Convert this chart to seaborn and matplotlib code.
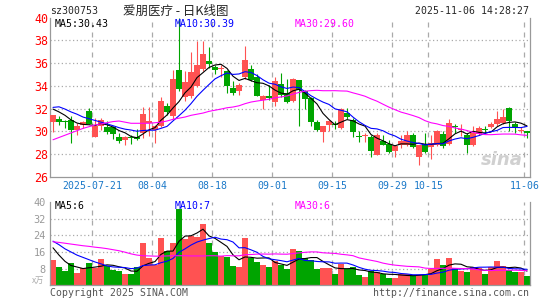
import numpy as np
import pandas as pd
import seaborn as sns
import matplotlib.pyplot as plt

# trading days on the chart (Oct 1-8 holiday skipped)
days = [d for d in pd.bdate_range('2025-07-10', '2025-11-06')
        if not (pd.Timestamp('2025-10-01') <= d <= pd.Timestamp('2025-10-08'))]

opens = [30.82, 31.1, 30.85, 31.03, 30.15, 30.53, 31.76, 29.5, 30.45, 30.4,
         30.4, 29.5, 29.2, 29.5, 29.45, 29.85, 30.75, 30.1, 30.45, 32.2,
         31.3, 35.4, 33.0, 33.1, 34.0, 35.5, 36.2, 35.65, 35.45, 35.3,
         33.8, 33.55, 34.8, 35.5, 34.8, 32.75, 33.1, 32.55, 34.15, 33.35,
         32.7, 34.5, 33.5, 32.9, 30.8, 29.95, 30.55, 30.6, 30.3, 31.6,
         31.0, 29.55, 29.55, 29.5, 27.95, 29.1, 28.9, 28.25, 28.75, 28.75,
         29.65, 27.7, 28.9, 28.6, 28.8, 29.75, 28.9, 30.4, 30.1, 29.7,
         28.75, 29.75, 30.15, 30.4, 30.6, 30.75, 32.05, 30.65, 30.0, 30.0]
highs = [31.4, 31.38, 31.0, 31.3, 30.74, 30.9, 32.05, 31.2, 31.2, 30.9,
         30.5, 29.85, 29.6, 29.7, 30.2, 32.1, 32.1, 30.55, 33.0, 32.45,
         35.4, 39.95, 35.3, 37.0, 37.9, 37.95, 37.4, 35.8, 35.8, 35.4,
         34.4, 34.25, 37.5, 35.85, 35.0, 33.2, 34.1, 34.8, 35.1, 34.6,
         34.65, 34.55, 33.65, 33.05, 30.95, 30.45, 30.95, 30.9, 32.05, 32.05,
         31.2, 30.0, 29.85, 29.7, 29.85, 29.65, 29.2, 28.75, 29.65, 30.0,
         29.85, 28.8, 29.85, 29.65, 30.1, 30.0, 31.05, 30.6, 30.65, 29.85,
         30.45, 30.45, 30.45, 30.8, 31.75, 32.0, 32.15, 30.8, 30.35, 30.0]
lows = [29.9, 30.55, 30.3, 29.0, 29.7, 30.3, 30.6, 29.45, 30.15, 29.8,
        29.3, 29.0, 28.8, 28.9, 29.25, 29.4, 29.6, 29.0, 30.35, 31.4,
        31.1, 33.5, 32.7, 32.9, 33.9, 35.3, 35.6, 35.0, 34.8, 33.35,
        33.2, 33.2, 34.6, 34.45, 33.1, 32.0, 32.75, 32.25, 33.0, 32.5,
        32.6, 30.5, 32.0, 30.5, 30.05, 29.05, 30.05, 30.2, 30.2, 31.1,
        29.5, 29.05, 29.05, 27.7, 27.9, 28.75, 28.1, 27.7, 28.5, 28.7,
        28.5, 27.0, 28.1, 27.6, 28.7, 28.5, 28.8, 29.85, 29.55, 28.1,
        28.7, 29.65, 29.75, 30.25, 30.45, 30.65, 30.05, 29.85, 29.85, 29.4]
closes = [31.4, 30.82, 30.8, 30.15, 30.44, 30.82, 30.65, 30.45, 31.0, 29.95,
          29.8, 29.1, 29.47, 29.4, 29.35, 31.5, 30.9, 30.45, 32.65, 31.65,
          34.6, 33.7, 34.3, 35.2, 35.8, 36.8, 35.95, 35.4, 35.5, 34.0,
          33.35, 34.1, 36.3, 34.5, 33.1, 33.1, 32.95, 34.45, 33.2, 32.6,
          34.6, 33.6, 32.8, 30.85, 30.15, 30.45, 30.9, 30.55, 31.95, 31.25,
          29.95, 29.5, 29.6, 28.25, 29.65, 28.8, 28.2, 28.7, 29.1, 29.65,
          28.6, 28.75, 28.2, 29.0, 30.05, 28.7, 30.75, 30.35, 30.2, 28.8,
          29.85, 30.3, 30.1, 30.6, 31.05, 31.25, 30.9, 30.3, 30.05, 29.85]
volumes = [12.1, 8.6, 6.8, 10.5, 5.9, 8.4, 10.5, 8.4, 12.6, 9.2,
           7.3, 7.0, 5.4, 5.4, 8.6, 20.4, 12.9, 9.6, 22.8, 16.4,
           20.4, 36.5, 22.0, 23.6, 23.1, 29.5, 20.4, 16.1, 14.0, 13.4,
           9.2, 8.6, 22.8, 13.2, 11.3, 9.7, 8.8, 11.8, 9.7, 7.8,
           17.4, 16.4, 12.9, 12.1, 7.8, 8.1, 8.4, 5.4, 10.4, 7.6,
           8.6, 4.9, 4.0, 6.8, 6.5, 5.4, 3.7, 3.7, 5.4, 5.4,
           4.8, 4.8, 5.1, 7.8, 12.6, 9.7, 13.2, 8.1, 7.0, 6.4,
           8.6, 8.3, 5.4, 8.6, 11.8, 9.4, 7.2, 6.5, 6.5, 4.5]

# moving averages at the left edge (history before the window)
ma5_head = [31.95, 31.7, 31.4, 31.0]
ma10_head = [32.1, 32.15, 31.95, 31.7, 31.5, 31.25, 31.1, 30.95, 30.8]
ma30_head = [29.25, 29.45, 29.65, 29.85, 30.05, 30.25, 30.4, 30.55, 30.65, 30.75,
             30.85, 30.9, 30.8, 30.7, 30.7, 30.7, 30.7, 30.75, 30.8, 30.9,
             31.05, 31.15, 31.25, 31.4, 31.5, 31.6, 31.75, 31.85, 31.95]
vma5_head = [18.0, 14.5, 11.5, 9.5]
vma10_head = [21.2, 19.5, 17.5, 16.0, 14.5, 13.4, 12.3, 11.2, 10.3]
vma30_head = [20.9, 20.6, 20.2, 19.8, 19.4, 19.0, 18.7, 18.3, 18.0, 17.6,
              17.1, 16.6, 15.9, 15.1, 14.5, 14.2, 14.1, 14.0, 14.0, 14.1,
              14.2, 14.2, 14.2, 14.1, 14.1, 14.1, 14.2, 14.2, 14.0]

tick_dates = ['2025-07-21', '2025-08-04', '2025-08-18', '2025-09-01',
              '2025-09-15', '2025-09-29', '2025-10-15', '2025-11-06']
tick_labels = ['2025-07-21', '08-04', '08-18', '09-01', '09-15', '09-29', '10-15', '11-06']

RED = '#ff5252'
GREEN = '#00a400'
GRID = '#aaaaaa'
FRAME = '#999999'


def moving_average(values, window, head):
    ma = pd.Series(values).rolling(window).mean().to_numpy()
    ma[:len(head)] = head
    return ma


def style_axis(ax):
    for side in ['left', 'bottom', 'right']:
        ax.spines[side].set_color(FRAME)
        ax.spines[side].set_linewidth(0.9)
    ax.spines['top'].set_visible(False)
    ax.set_xlim(-0.5, len(days) - 0.5)
    for p in grid_x:
        ax.axvline(p, color=GRID, linestyle=(0, (4, 4)), linewidth=0.9, zorder=0)


sns.set_style('white')
plt.rcParams['font.family'] = ['DejaVu Sans Mono', 'Noto Sans CJK SC']

x = np.arange(len(days))
o = np.array(opens)
c = np.array(closes)
colors = np.where(c >= o, RED, GREEN)
day_index = {d.strftime('%Y-%m-%d'): i for i, d in enumerate(days)}
grid_x = [day_index[d] - 0.42 for d in tick_dates]

fig = plt.figure(figsize=(5.45, 3.0), dpi=100)
ax1 = fig.add_axes([50 / 545, 1 - 176.7 / 300, 480 / 545, 159.1 / 300])
ax2 = fig.add_axes([50 / 545, 1 - 285.3 / 300, 480 / 545, 83.3 / 300])

# Price panel
style_axis(ax1)
for level in range(28, 40, 2):
    ax1.axhline(level, color=GRID, linestyle=(0, (1, 2)), linewidth=0.9, zorder=0)
ax1.vlines(x, lows, highs, colors=colors, linewidth=0.8, zorder=2)
ax1.bar(x, np.maximum(np.abs(c - o), 0.08), bottom=np.minimum(o, c),
        width=0.84, color=colors, linewidth=0, zorder=3)
sns.lineplot(x=x, y=moving_average(closes, 5, ma5_head), ax=ax1, color='black', linewidth=0.8, zorder=4)
sns.lineplot(x=x, y=moving_average(closes, 10, ma10_head), ax=ax1, color='#0000ff', linewidth=0.8, zorder=4)
sns.lineplot(x=x, y=moving_average(closes, 30, ma30_head), ax=ax1, color='#ff00ff', linewidth=0.8, zorder=4)
ax1.set_ylim(26, 40)
ax1.set_yticks(range(26, 41, 2))
ax1.set_xticks(grid_x)
ax1.set_xticklabels(tick_labels)
ax1.tick_params(axis='y', length=0, pad=1, labelsize=8.4, labelcolor='#ff0000')
ax1.tick_params(axis='x', length=0, pad=3, labelsize=7.1, labelcolor='#1a78c8')
ax1.set_xlabel(None)
ax1.set_ylabel(None)
ax1.text(0.985, 0.05, 'sina', transform=ax1.transAxes, ha='right', va='bottom',
         fontsize=13, fontweight='bold', style='italic', color='#d0d0d0',
         family='DejaVu Sans', zorder=1)

# Volume panel
style_axis(ax2)
for level in range(8, 40, 8):
    ax2.axhline(level, color=GRID, linestyle=(0, (1, 2)), linewidth=0.9, zorder=0)
ax2.bar(x, volumes, width=0.84, color=colors, linewidth=0, zorder=2)
sns.lineplot(x=x, y=moving_average(volumes, 5, vma5_head), ax=ax2, color='black', linewidth=0.8, zorder=4)
sns.lineplot(x=x, y=moving_average(volumes, 10, vma10_head), ax=ax2, color='#0000ff', linewidth=0.8, zorder=4)
sns.lineplot(x=x, y=moving_average(volumes, 30, vma30_head), ax=ax2, color='#ff00ff', linewidth=0.8, zorder=4)
ax2.set_ylim(0, 40)
ax2.set_yticks(range(8, 41, 8))
ax2.set_xticks([])
ax2.tick_params(axis='y', length=0, pad=3, labelsize=7.4, labelcolor='#999999')
ax2.set_xlabel(None)
ax2.set_ylabel(None)

# Header and legend texts
fs = 7.1
fig.text(50 / 545, 1 - 11 / 300, 'sz300753', fontsize=fs, va='center')
fig.text(176 / 545, 1 - 11 / 300, '爱朋医疗 - 日K线图', fontsize=9, va='center', ha='center',
         family=['Noto Sans CJK SC', 'DejaVu Sans'])
fig.text(529 / 545, 1 - 11 / 300, '2025-11-06 14:28:27', fontsize=fs, va='center', ha='right')

fig.text(55 / 545, 1 - 24 / 300, 'MA5:30.43', fontsize=fs, va='center', color='black')
fig.text(175 / 545, 1 - 24 / 300, 'MA10:30.39', fontsize=fs, va='center', color='#0000ff')
fig.text(295 / 545, 1 - 24 / 300, 'MA30:29.60', fontsize=fs, va='center', color='#ff00ff')
fig.text(55 / 545, 1 - 206 / 300, 'MA5:6', fontsize=fs, va='center', color='black')
fig.text(175 / 545, 1 - 206 / 300, 'MA10:7', fontsize=fs, va='center', color='#0000ff')
fig.text(295 / 545, 1 - 206 / 300, 'MA30:6', fontsize=fs, va='center', color='#ff00ff')

fig.text(44 / 545, 1 - 280 / 300, 'x万', fontsize=6, va='center', ha='right', color='#aaaaaa',
         family=['Noto Sans CJK SC', 'DejaVu Sans'])
fig.text(50 / 545, 1 - 293 / 300, 'Copyright 2025 SINA.COM', fontsize=fs, va='center', color='#555555')
fig.text(529 / 545, 1 - 293 / 300, 'http://finance.sina.com.cn', fontsize=fs, va='center', ha='right', color='#555555')

fig.savefig('out.png', dpi=100)
